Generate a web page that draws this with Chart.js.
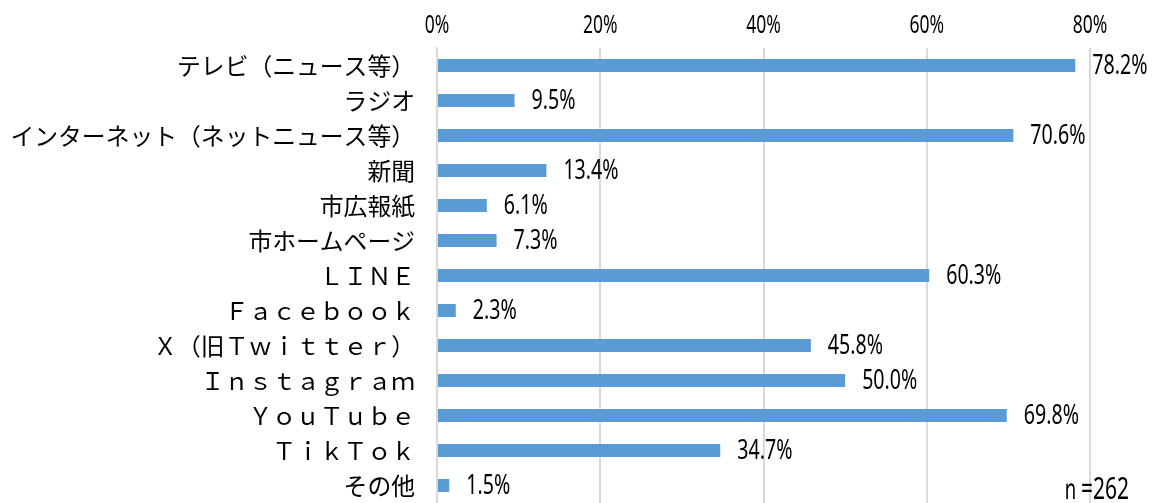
<!DOCTYPE html>
<html lang="ja">
<head>
    <meta charset="UTF-8">
    <title>情報入手手段</title>
    <script src="https://cdn.jsdelivr.net/npm/chart.js@4"></script>
    <style>
        html, body { margin: 0; padding: 0; background: #fff; }
        #wrap { width: 1156px; height: 503px; position: relative; }
    </style>
</head>
<body>
    <div id="wrap"><canvas id="chart"></canvas></div>

    <script>
        // カテゴリ（全角のまま）
        const categories = [
            'テレビ（ニュース等）',
            'ラジオ',
            'インターネット（ネットニュース等）',
            '新聞',
            '市広報紙',
            '市ホームページ',
            'ＬＩＮＥ',
            'Ｆａｃｅｂｏｏｋ',
            'Ｘ（旧Ｔｗｉｔｔｅｒ）',
            'Ｉｎｓｔａｇｒａｍ',
            'ＹｏｕＴｕｂｅ',
            'ＴｉｋＴｏｋ',
            'その他'
        ];
        // 割合（%）
        const percents = [78.2, 9.5, 70.6, 13.4, 6.1, 7.3, 60.3, 2.3, 45.8, 50.0, 69.8, 34.7, 1.5];
        const xTicks = [0, 20, 40, 60, 80];
        const sampleNote = 'ｎ=262';

        const numFont = '"Noto Sans", sans-serif';
        const jpFont = '"Noto Sans CJK JP", sans-serif';
        const squeeze = 0.7; // 数字は細い書体に見せる

        function narrowText(ctx, text, x, y, align) {
            ctx.save();
            ctx.translate(x, y);
            ctx.scale(squeeze, 1);
            const w = ctx.measureText(text).width;
            let dx = 0;
            if (align === 'center') dx = -w / 2;
            if (align === 'right') dx = -w;
            ctx.textAlign = 'left';
            ctx.fillText(text, dx, 0);
            ctx.restore();
        }

        // 目盛ラベル（上側）とバーの値
        const textLayer = {
            id: 'textLayer',
            afterDatasetsDraw(chart) {
                const ctx = chart.ctx;
                const xs = chart.scales.x;
                ctx.save();
                ctx.fillStyle = '#000';
                ctx.font = '25px ' + numFont;
                ctx.textBaseline = 'alphabetic';
                xTicks.forEach(v => {
                    narrowText(ctx, v + '%', xs.getPixelForValue(v), 33, 'center');
                });

                ctx.font = '28px ' + numFont;
                ctx.textBaseline = 'middle';
                const meta = chart.getDatasetMeta(0);
                meta.data.forEach((bar, i) => {
                    narrowText(ctx, percents[i].toFixed(1) + '%', bar.x + 17, bar.y + 1, 'left');
                });

                ctx.font = '30px ' + numFont;
                ctx.textBaseline = 'alphabetic';
                narrowText(ctx, sampleNote, 1129, 499, 'right');
                ctx.restore();
            }
        };

        new Chart(document.getElementById('chart'), {
            type: 'bar',
            data: {
                labels: categories,
                datasets: [{
                    data: percents,
                    backgroundColor: '#5B9BD5',
                    barPercentage: 0.37,
                    categoryPercentage: 1.0
                }]
            },
            options: {
                indexAxis: 'y',
                responsive: true,
                maintainAspectRatio: false,
                animation: false,
                layout: { padding: { left: 0, right: 66, top: 0, bottom: 0 } },
                plugins: {
                    legend: { display: false },
                    tooltip: { enabled: false }
                },
                scales: {
                    x: {
                        position: 'top',
                        min: 0,
                        max: 80,
                        afterBuildTicks(scale) {
                            scale.ticks = xTicks.map(v => ({ value: v }));
                        },
                        afterFit(scale) {
                            scale.height = 48;
                            scale.paddingLeft = 0;
                            scale.paddingRight = 0;
                        },
                        ticks: { display: false },
                        grid: { color: '#d9d9d9', lineWidth: 2, drawTicks: false },
                        border: { display: false }
                    },
                    y: {
                        afterFit(scale) {
                            scale.width = 437;
                            scale.paddingTop = 0;
                            scale.paddingBottom = 0;
                        },
                        ticks: {
                            color: '#000',
                            padding: 22,
                            font: { family: jpFont, size: 23.8 }
                        },
                        grid: { display: false, drawTicks: false },
                        border: { display: true, color: '#d9d9d9', width: 2 }
                    }
                }
            },
            plugins: [textLayer]
        });
    </script>
</body>
</html>
